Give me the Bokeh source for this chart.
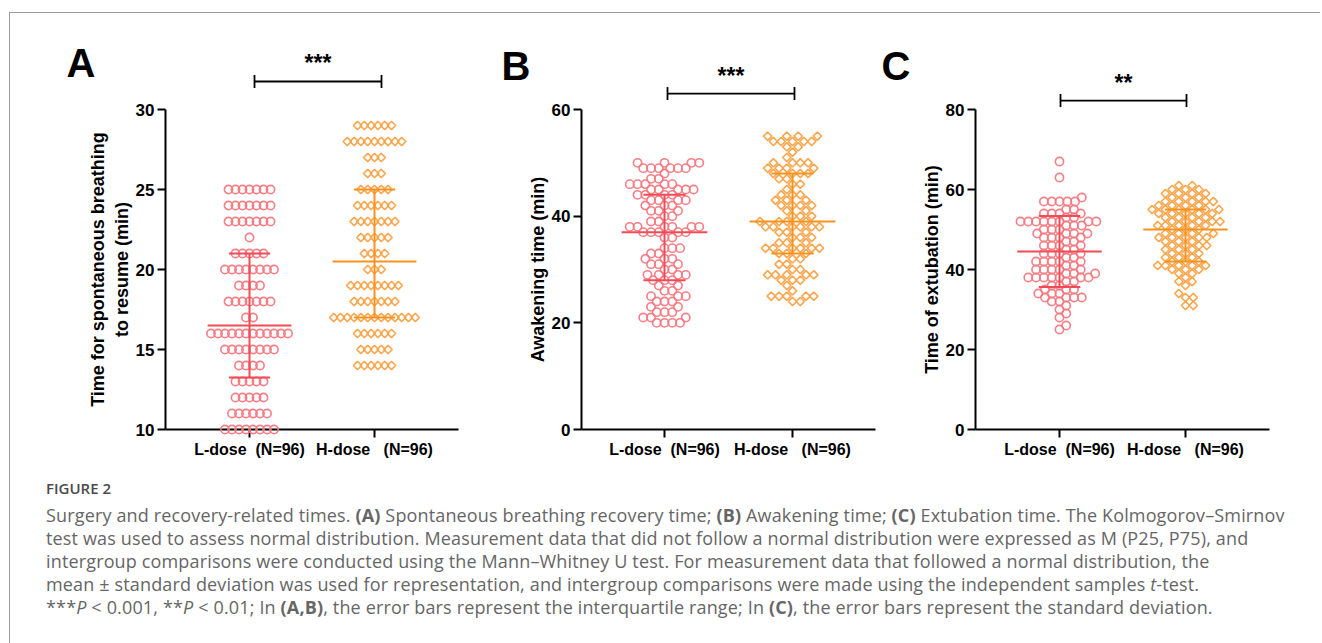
import numpy as np
from bokeh.plotting import figure
from bokeh.models import Range1d, FixedTicker, Div
from bokeh.layouts import row, column
from bokeh.core.properties import value
from bokeh.embed import file_html
from bokeh.resources import INLINE

NB = "\u00a0"
categories = ["L-dose" + NB * 2 + "(N=96)", "H-dose" + NB * 3 + "(N=96)"]

# ---------------- Panel A: spontaneous breathing (min) ----------------
a_levels_L = [10, 11, 12, 13, 14, 15, 16, 17, 18, 19, 20, 21, 22, 23, 24, 25]
a_counts_L = [8, 6, 5, 5, 4, 8, 12, 2, 7, 4, 8, 5, 1, 7, 7, 7]
a_levels_H = [14, 15, 16, 17, 18, 19, 20, 21, 22, 23, 24, 25, 26, 27, 28, 29]
a_counts_H = [6, 5, 6, 13, 7, 8, 3, 4, 5, 7, 6, 5, 3, 3, 9, 6]
a_center = [16.5, 20.5]
a_low = [13.25, 17.0]
a_high = [21.0, 25.0]

# ---------------- Panel B: awakening time (min) ----------------
b_levels_L = [20, 21, 22, 23, 24, 25, 26, 27, 28, 29, 30, 31, 32, 33, 34, 36, 37, 38, 39, 40,
              41, 42, 43, 44, 45, 46, 47, 48, 49, 50]
b_counts_L = [4, 3, 3, 2, 3, 3, 2, 2, 3, 4, 2, 3, 3, 2, 3, 2, 5, 6, 2, 2,
              3, 3, 4, 4, 5, 5, 2, 1, 6, 4]
b_levels_H = [24, 25, 26, 27, 28, 29, 30, 31, 32, 33, 34, 35, 36, 37, 38, 39, 40, 41, 42, 43,
              44, 45, 46, 47, 48, 49, 50, 51, 52, 53, 54, 55]
b_counts_H = [2, 5, 1, 1, 3, 5, 2, 2, 2, 3, 6, 3, 3, 3, 6, 4, 3, 2, 4, 3,
              3, 1, 2, 2, 4, 4, 4, 1, 1, 2, 5, 4]
b_center = [37.0, 39.0]
b_low = [28.0, 33.0]
b_high = [44.0, 48.0]

# ---------------- Panel C: extubation time (min) ----------------
c_levels_L = [25, 26, 28, 29, 30, 31, 32, 33, 34, 35, 36, 37, 38, 39, 40, 41, 42, 43, 44, 45,
              46, 47, 48, 49, 50, 51, 52, 53, 54, 55, 57, 58, 63, 67]
c_counts_L = [1, 1, 1, 1, 1, 1, 2, 4, 3, 3, 2, 2, 7, 3, 5, 2, 5, 2, 4, 2,
              4, 2, 4, 4, 3, 3, 8, 2, 4, 2, 5, 1, 1, 1]
c_levels_H = [31, 33, 34, 36, 37, 38, 39, 40, 41, 42, 43, 44, 45, 46, 47, 48, 49, 50, 51, 52,
              53, 54, 55, 56, 57, 58, 59, 60, 61]
c_counts_H = [2, 2, 1, 1, 2, 1, 2, 3, 5, 3, 3, 3, 3, 4, 3, 5, 4, 3, 5, 5,
              4, 5, 6, 4, 5, 3, 4, 3, 2]
c_center = [44.5, 50.0]
c_low = [35.6, 42.0]
c_high = [53.4, 55.0]

# ---------------- styling / layout constants ----------------
L_PT, L_LN = "#F47880", "#F04C55"
H_PT, H_LN = "#FAA246", "#F7921E"
FONT = "Liberation Sans"
ROW_TOP = 13          # page y where the row of figures starts
FRAME_TOP = 109       # page y of the top of every y axis
FIG_H = 462


def row_offsets(vals, spacing):
    out = np.zeros(len(vals))
    for v in np.unique(vals):
        idx = np.where(vals == v)[0]
        n = len(idx)
        out[idx] = (np.arange(n) - (n - 1) / 2.0) * spacing
    return out


def swarm_offsets(vals, ppu, d):
    order = np.argsort(vals, kind="stable")
    placed = []
    out = np.zeros(len(vals))
    for k, i in enumerate(order):
        y = vals[i] * ppu
        cands = [0.0]
        for px, py in placed:
            dy = abs(py - y)
            if dy < d:
                w = np.sqrt(d * d - dy * dy)
                cands += [px + w, px - w]
        sgn = 1 if k % 2 == 0 else -1
        cands.sort(key=lambda c: (round(abs(c), 3), sgn * c))
        chosen = 0.0
        for c in cands:
            if all((c - px) ** 2 + (y - py) ** 2 >= d * d - 1e-6 for px, py in placed):
                chosen = c
                break
        placed.append((chosen, y))
        out[i] = chosen
    return out


def make_panel(spec):
    unit = spec["h_px"] - spec["l_px"]
    off = (spec["l_px"] - spec["ax_px"]) / unit
    x0, x1 = 1 - off, 2 + off
    fw = int(round((x1 - x0) * unit))
    fh = spec["base_px"] - FRAME_TOP
    yt = spec["yticks"]
    ppu = fh / float(yt[-1] - yt[0])
    bl = spec["ax_px"] - spec["fig_left"]
    br = spec["right"]
    W = bl + fw + br
    top = FRAME_TOP - ROW_TOP
    bottom = FIG_H - top - fh

    def xd(px):
        return 1 + (px - spec["l_px"]) / unit

    def yd(py):
        return yt[0] + (spec["base_px"] - py) / ppu

    p = figure(width=W, height=FIG_H, x_range=Range1d(x0, x1), y_range=Range1d(yt[0], yt[-1]),
               output_backend="svg", toolbar_location=None,
               min_border_left=bl, min_border_right=br,
               min_border_top=top, min_border_bottom=bottom)
    p.outline_line_color = None
    p.grid.visible = False
    p.background_fill_color = "white"
    p.border_fill_color = "white"

    for ax in (p.xaxis, p.yaxis):
        ax.axis_line_width = 2
        ax.axis_line_color = "black"
        ax.major_tick_line_width = 2
        ax.major_tick_line_color = "black"
        ax.major_tick_in = 0
        ax.major_tick_out = 8
        ax.minor_tick_line_color = None
        ax.major_label_text_font = FONT
        ax.major_label_text_font_style = "bold"
        ax.major_label_text_color = "black"

    p.xaxis.ticker = FixedTicker(ticks=[1, 2])
    p.xaxis.major_label_overrides = {1: categories[0], 2: categories[1]}
    p.xaxis.major_label_text_font_size = "16px"
    p.xaxis.major_label_standoff = 3

    p.yaxis.ticker = FixedTicker(ticks=yt)
    p.yaxis.major_label_text_font_size = "17px"
    p.yaxis.major_label_standoff = 3
    p.yaxis.axis_label = spec["ylabel"]
    p.yaxis.axis_label_text_font = FONT
    p.yaxis.axis_label_text_font_style = "bold"
    p.yaxis.axis_label_text_font_size = "18px"
    p.yaxis.axis_label_text_color = "black"
    p.yaxis.axis_label_standoff = 1

    groups = [(spec["levels"][0], spec["counts"][0], L_PT, "circle"),
              (spec["levels"][1], spec["counts"][1], H_PT, "diamond")]
    for g, (lev, cnt, pc, mk) in enumerate(groups):
        vals = np.repeat(np.array(lev, dtype=float), cnt)
        if spec["layout"] == "rows":
            offs = row_offsets(vals, (7.0 if mk == "circle" else 6.8) / unit)
        else:
            offs = swarm_offsets(vals, ppu, 7.8) / unit
        xs = (g + 1) + offs
        if mk == "circle":
            p.scatter(xs, vals, marker="circle", size=8.3, fill_alpha=0,
                      line_color=pc, line_width=1.6, line_alpha=0.95, level="overlay")
        else:
            p.scatter(xs, vals, marker="square", angle=np.pi / 4, size=5.9, fill_alpha=0,
                      line_color=pc, line_width=1.6, line_alpha=0.95, level="overlay")

    centers, lows, highs = spec["center"], spec["low"], spec["high"]
    for g, lc in enumerate([L_LN, H_LN]):
        gx = g + 1
        p.segment(x0=[gx - 0.335], y0=[centers[g]], x1=[gx + 0.335], y1=[centers[g]],
                  line_color=lc, line_width=2, level="overlay")
        p.segment(x0=[gx - 0.165, gx - 0.165], y0=[lows[g], highs[g]],
                  x1=[gx + 0.165, gx + 0.165], y1=[lows[g], highs[g]],
                  line_color=lc, line_width=2, level="overlay")
        p.segment(x0=[gx], y0=[lows[g]], x1=[gx], y1=[highs[g]], line_color=lc, line_width=2,
                  level="overlay")

    # significance bracket above the plotting area
    by = yd(spec["bracket_px"])
    tick = 6.5 / ppu
    bx0, bx1 = xd(spec["bracket_x"][0]), xd(spec["bracket_x"][1])
    p.segment(x0=[bx0, bx0, bx1], y0=[by, by - tick, by - tick],
              x1=[bx1, bx0, bx1], y1=[by, by + tick, by + tick],
              line_color="black", line_width=1.8, level="overlay")
    p.text(x=[(bx0 + bx1) / 2], y=[yd(spec["star_px"])], text=[spec["stars"]],
           text_align="center", text_baseline="middle",
           text_font=value(FONT), text_font_style="bold", text_font_size=value("23px"),
           text_color="black", level="overlay")
    # panel letter
    p.text(x=[xd(spec["letter_px"][0])], y=[yd(spec["letter_px"][1])], text=[spec["letter"]],
           text_align="left", text_baseline="middle",
           text_font=value(FONT), text_font_style="bold", text_font_size=value("40px"),
           text_color="black", level="overlay")
    return p, spec["fig_left"] + W


specA = dict(letter="A", ylabel="Time for spontaneous breathing\nto resume (min)",
             levels=[a_levels_L, a_levels_H], counts=[a_counts_L, a_counts_H],
             center=a_center, low=a_low, high=a_high, layout="rows",
             yticks=[10, 15, 20, 25, 30], base_px=429,
             ax_px=165, l_px=249, h_px=374, fig_left=10, right=10,
             bracket_px=81, bracket_x=(254, 381), stars="***", star_px=62.5,
             letter_px=(66, 62.5))
pA, nxt = make_panel(specA)

specB = dict(letter="B", ylabel="Awakening time (min)",
             levels=[b_levels_L, b_levels_H], counts=[b_counts_L, b_counts_H],
             center=b_center, low=b_low, high=b_high, layout="swarm",
             yticks=[0, 20, 40, 60], base_px=430,
             ax_px=581, l_px=664, h_px=792, fig_left=nxt, right=3,
             bracket_px=93, bracket_x=(667, 794), stars="***", star_px=75,
             letter_px=(501, 65.5))
pB, nxt = make_panel(specB)

specC = dict(letter="C", ylabel="Time of extubation (min)",
             levels=[c_levels_L, c_levels_H], counts=[c_counts_L, c_counts_H],
             center=c_center, low=c_low, high=c_high, layout="swarm",
             yticks=[0, 20, 40, 60, 80], base_px=430,
             ax_px=975, l_px=1059, h_px=1185, fig_left=nxt, right=10,
             bracket_px=100, bracket_x=(1060, 1186), stars="**", star_px=82,
             letter_px=(881, 65.5))
pC, nxt = make_panel(specC)

cap_lines = [
    "Surgery and recovery-related times. <b>(A)</b> Spontaneous breathing recovery time; "
    "<b>(B)</b> Awakening time; <b>(C)</b> Extubation time. The Kolmogorov&#8211;Smirnov",
    "test was used to assess normal distribution. Measurement data that did not follow a normal "
    "distribution were expressed as M (P25, P75), and",
    "intergroup comparisons were conducted using the Mann&#8211;Whitney U test. For measurement "
    "data that followed a normal distribution, the",
    "mean &plusmn; standard deviation was used for representation, and intergroup comparisons "
    "were made using the independent samples <i>t</i>-test.",
    "***<i>P</i> &lt; 0.001, **<i>P</i> &lt; 0.01; In <b>(A,B)</b>, the error bars represent the "
    "interquartile range; In <b>(C)</b>, the error bars represent the standard deviation.",
]
html = (
    '<div style="font-family:\'Open Sans\',sans-serif; color:#666666; white-space:nowrap; '
    'padding-left:31px; margin-top:-3px;">'
    '<div style="font-size:15px; font-weight:600; color:#4a4a4a; line-height:23px;">FIGURE 2</div>'
    '<div style="font-size:18px; letter-spacing:0.15px; line-height:23px; margin-top:4px;">'
    + "<br>".join(cap_lines) + "</div></div>"
)
caption = Div(text=html, width=1300, height=164)

layout = column(row(pA, pB, pC), caption, margin=(12, 0, 0, 9),
                styles={"border-top": "1px solid #9a9a9a", "border-left": "1px solid #9a9a9a"})

open("out.html", "w").write(file_html(layout, INLINE))
